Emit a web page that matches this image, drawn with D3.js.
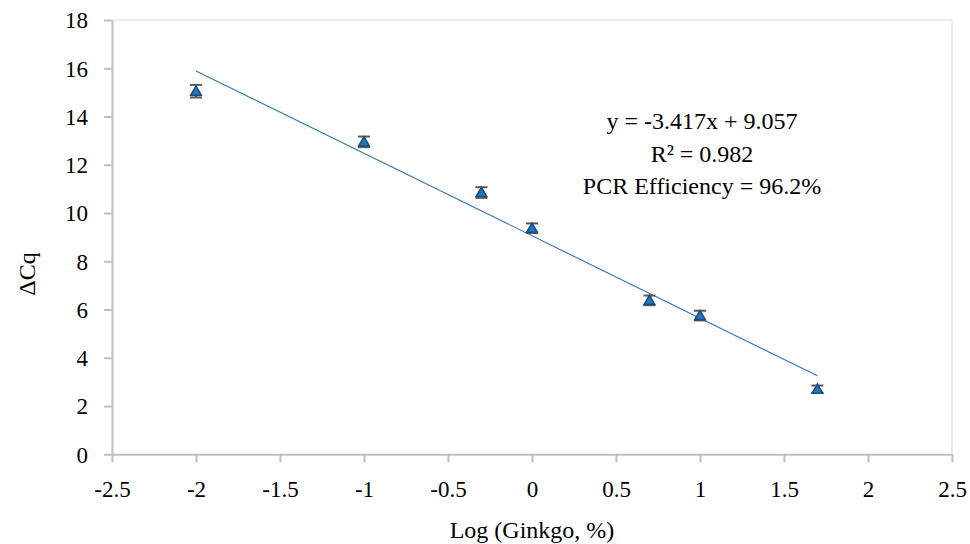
<!DOCTYPE html>
<html><head><meta charset="utf-8">
<script src="https://cdn.jsdelivr.net/npm/d3@7"></script>
<style>body{margin:0;background:#fff}svg{display:block}text{font-family:"Liberation Serif","Times New Roman",serif;fill:#000}</style>
</head><body><svg id="c" width="970" height="544"></svg>
<script>
const logConc = [-2, -1, -0.301, 0, 0.699, 1, 1.699];
const deltaCq = [15.05, 12.95, 10.85, 9.37, 6.38, 5.75, 2.7];
const errs = [0.26, 0.22, 0.22, 0.2, 0.2, 0.2, 0.15];
const slope = -3.417, intercept = 9.057;
const xTicks = [-2.5, -2, -1.5, -1, -0.5, 0, 0.5, 1, 1.5, 2, 2.5];
const yTicks = [0, 2, 4, 6, 8, 10, 12, 14, 16, 18];
const eqLines = ["y = -3.417x + 9.057", "R² = 0.982", "PCR Efficiency = 96.2%"];

const FONT = '"Liberation Serif","Times New Roman",serif';
const svg = d3.select("#c");
const L = 112, R = 952, T = 20, B = 454.3;
const x = d3.scaleLinear().domain([-2.5, 2.5]).range([L, R]);
const y = d3.scaleLinear().domain([0, 18]).range([B, T]);
const grey = "#bfbfbf";

// plot border top/right
svg.append("line").attr("x1", L).attr("x2", R).attr("y1", T).attr("y2", T).attr("stroke", "#d9d9d9").attr("stroke-width", 1);
svg.append("line").attr("x1", R).attr("x2", R).attr("y1", T).attr("y2", B).attr("stroke", "#d9d9d9").attr("stroke-width", 1);

const xAxis = svg.append("g").attr("transform", `translate(0,${B})`)
  .call(d3.axisBottom(x).tickValues(xTicks).tickFormat(d => String(d)).tickSize(8).tickSizeOuter(0));
const yAxis = svg.append("g").attr("transform", `translate(${L},0)`)
  .call(d3.axisLeft(y).tickValues(yTicks).tickFormat(d => String(d)).tickSize(8).tickSizeOuter(0));
[xAxis, yAxis].forEach(g => {
  g.attr("font-family", FONT).attr("font-size", null);
  g.select(".domain").attr("stroke", grey).attr("stroke-width", 2);
  g.selectAll(".tick line").attr("stroke", grey).attr("stroke-width", 2);
  g.selectAll(".tick text").style("font-family", FONT).style("font-size", "23px").attr("fill", "#000");
});
xAxis.selectAll(".tick text").attr("dy", null).attr("y", 43);
yAxis.selectAll(".tick text").attr("x", -24).attr("dy", "0.34em");

// trendline
svg.append("line")
  .attr("x1", x(logConc[0])).attr("y1", y(slope * logConc[0] + intercept))
  .attr("x2", x(logConc[logConc.length - 1])).attr("y2", y(slope * logConc[logConc.length - 1] + intercept))
  .attr("stroke", "#2e75b6").attr("stroke-width", 1.1);

const pts = logConc.map((v, i) => ({x: v, y: deltaCq[i], e: errs[i]}));
const eb = svg.append("g").attr("stroke", "#595959").attr("stroke-width", 2);
pts.forEach(p => {
  const cx = x(p.x);
  eb.append("line").attr("x1", cx).attr("x2", cx).attr("y1", y(p.y + p.e)).attr("y2", y(p.y - p.e));
  eb.append("line").attr("x1", cx - 6).attr("x2", cx + 6).attr("y1", y(p.y + p.e)).attr("y2", y(p.y + p.e));
  eb.append("line").attr("x1", cx - 6).attr("x2", cx + 6).attr("y1", y(p.y - p.e)).attr("y2", y(p.y - p.e));
});
const tri = d3.symbol().type(d3.symbolTriangle).size(48);
svg.append("g").selectAll("path").data(pts).join("path")
  .attr("d", tri).attr("transform", d => `translate(${x(d.x)},${y(d.y) + 1})`)
  .attr("fill", "#1f77c4").attr("stroke", "#184f7e").attr("stroke-width", 1.6);

// equation
svg.append("g").selectAll("text").data(eqLines).join("text")
  .attr("x", 702).attr("y", (d, i) => 129 + i * 32.5).attr("text-anchor", "middle")
  .style("font-size", "24px").text(d => d);

// axis titles
svg.append("text").attr("x", 532).attr("y", 538).attr("text-anchor", "middle").style("font-size", "24px").text("Log (Ginkgo, %)");
svg.append("text").attr("transform", "translate(35,274) rotate(-90)").attr("text-anchor", "middle").style("font-size", "24px").text("ΔCq");
</script></body></html>
